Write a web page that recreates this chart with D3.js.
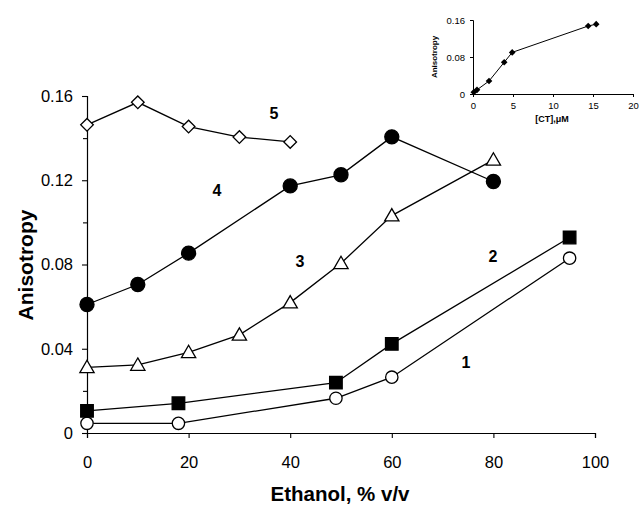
<!DOCTYPE html>
<html>
<head>
<meta charset="utf-8" />
<title>Anisotropy vs ethanol</title>
<script src="https://cdn.jsdelivr.net/npm/d3@7"></script>
<style>
  body { margin: 0; background: #fff; }
  svg text { font-family: "Liberation Sans", Arial, sans-serif; fill: #000; }
</style>
</head>
<body>
<svg id="chart" width="639" height="506"></svg>
<script>
// main plot: anisotropy vs ethanol, % v/v
var ethanol1 = [0, 18, 49, 60, 95];
var aniso1   = [0.0046, 0.0046, 0.0165, 0.0265, 0.083];
var ethanol2 = [0, 18, 49, 60, 95];
var aniso2   = [0.0105, 0.0141, 0.0239, 0.0423, 0.0928];
var ethanol3 = [0, 10, 20, 30, 40, 50, 60, 80];
var aniso3   = [0.0312, 0.0323, 0.0383, 0.0466, 0.0619, 0.0806, 0.1032, 0.1297];
var ethanol4 = [0, 10, 20, 40, 50, 60, 80];
var aniso4   = [0.061, 0.0705, 0.0854, 0.1173, 0.1226, 0.1406, 0.1194];
var ethanol5 = [0, 10, 20, 30, 40];
var aniso5   = [0.1463, 0.157, 0.1455, 0.1405, 0.1382];

var xTicks = [0, 20, 40, 60, 80, 100];
var yTicks = [0, 0.04, 0.08, 0.12, 0.16];
var yMinor = [0.02, 0.06, 0.10, 0.14];

// inset: anisotropy vs [CT], uM
var ct      = [0.1, 0.5, 2.0, 3.9, 4.9, 14.4, 15.4];
var ctAniso = [0.004, 0.009, 0.028, 0.0686, 0.090, 0.147, 0.151];
var ctXTicks = [0, 5, 10, 15, 20];
var ctYTicks = [0, 0.08, 0.16];

var svg = d3.select("#chart");

var x = d3.scaleLinear().domain([0, 100]).range([87, 595]);
var y = d3.scaleLinear().domain([0, 0.16]).range([433, 96]);

// axes
var xAxis = svg.append("g").attr("transform", "translate(0,433)")
  .call(d3.axisBottom(x).tickValues(xTicks).tickSize(5).tickPadding(18));
var yAxis = svg.append("g").attr("transform", "translate(87,0)")
  .call(d3.axisLeft(y).tickValues(yTicks).tickSize(5).tickPadding(9)
    .tickFormat(function(d) { return d === 0 ? "0" : d3.format(".2f")(d); }));
svg.append("g").attr("transform", "translate(87,0)")
  .call(d3.axisLeft(y).tickValues(yMinor).tickSize(4).tickFormat(""))
  .select(".domain").remove();

[xAxis, yAxis].forEach(function(a) {
  a.selectAll("text").style("font-size", "16.5px");
});
svg.selectAll(".domain").attr("stroke", "#000").attr("stroke-width", 1.2);
svg.selectAll(".tick line").attr("stroke", "#000").attr("stroke-width", 1.1);

svg.append("text").attr("x", 340).attr("y", 501).attr("text-anchor", "middle")
  .style("font-size", "20.5px").style("font-weight", "bold").text("Ethanol, % v/v");
svg.append("text").attr("transform", "translate(33,265) rotate(-90)").attr("text-anchor", "middle")
  .style("font-size", "21px").style("font-weight", "bold").text("Anisotropy");

function pts(xs, ys) { return xs.map(function(v, i) { return [v, ys[i]]; }); }

var line = d3.line().x(function(d) { return x(d[0]); }).y(function(d) { return y(d[1]); });

// diamond = square turned 45 degrees
var series = [
  { data: pts(ethanol1, aniso1), shape: d3.symbolCircle, size: 120, fill: "#fff", rot: 0, dy: 0 },
  { data: pts(ethanol2, aniso2), shape: d3.symbolSquare, size: 158, fill: "#000", rot: 0, dy: 0 },
  { data: pts(ethanol3, aniso3), shape: d3.symbolTriangle, size: 88, fill: "#fff", rot: 0, dy: 1.2 },
  { data: pts(ethanol4, aniso4), shape: d3.symbolCircle, size: 155, fill: "#000", rot: 0, dy: 0 },
  { data: pts(ethanol5, aniso5), shape: d3.symbolSquare, size: 80, fill: "#fff", rot: 45, dy: 0 }
];

series.forEach(function(s) {
  svg.append("path").datum(s.data).attr("d", line)
    .attr("fill", "none").attr("stroke", "#000").attr("stroke-width", 1.3);
});
series.forEach(function(s) {
  var sym = d3.symbol().type(s.shape).size(s.size);
  svg.append("g").selectAll("path").data(s.data).join("path")
    .attr("transform", function(d) {
      return "translate(" + x(d[0]) + "," + (y(d[1]) + s.dy) + ") rotate(" + s.rot + ")";
    })
    .attr("d", sym)
    .attr("fill", s.fill).attr("stroke", "#000").attr("stroke-width", 1.3);
});

// curve numbers
var curveLabels = [
  { t: "1", x: 466, y: 368 }, { t: "2", x: 493, y: 262 }, { t: "3", x: 300, y: 267 },
  { t: "4", x: 217, y: 196 }, { t: "5", x: 274, y: 119 }
];
svg.append("g").selectAll("text").data(curveLabels).join("text")
  .attr("x", function(d) { return d.x; }).attr("y", function(d) { return d.y; })
  .attr("text-anchor", "middle").style("font-size", "16px").style("font-weight", "bold")
  .text(function(d) { return d.t; });

// inset
var ix = d3.scaleLinear().domain([0, 20]).range([473, 633]);
var iy = d3.scaleLinear().domain([0, 0.16]).range([94, 20]);
var inset = svg.append("g");

inset.append("g").attr("transform", "translate(0,94)")
  .call(d3.axisBottom(ix).tickValues(ctXTicks).tickSize(3).tickPadding(5));
inset.append("g").attr("transform", "translate(473,0)")
  .call(d3.axisLeft(iy).tickValues(ctYTicks).tickSize(3).tickPadding(5)
    .tickFormat(function(d) { return d === 0 ? "0" : d3.format(".2f")(d); }));
inset.selectAll(".tick text").style("font-size", "9.5px");
inset.selectAll(".domain").attr("stroke", "#000").attr("stroke-width", 1);
inset.selectAll(".tick line").attr("stroke", "#000");

inset.append("text").attr("x", 552).attr("y", 122).attr("text-anchor", "middle")
  .style("font-size", "9px").style("font-weight", "bold").text("[CT],\u03bcM");
inset.append("text").attr("transform", "translate(437,57) rotate(-90)").attr("text-anchor", "middle")
  .style("font-size", "8px").style("font-weight", "bold").text("Anisotropy");

var inLine = d3.line().x(function(d) { return ix(d[0]); }).y(function(d) { return iy(d[1]); });
var inData = pts(ct, ctAniso);
inset.append("path").datum(inData).attr("d", inLine)
  .attr("fill", "none").attr("stroke", "#000").attr("stroke-width", 1);
inset.append("g").selectAll("path").data(inData).join("path")
  .attr("transform", function(d) { return "translate(" + ix(d[0]) + "," + iy(d[1]) + ") rotate(45)"; })
  .attr("d", d3.symbol().type(d3.symbolSquare).size(22))
  .attr("fill", "#000");
</script>
</body>
</html>
